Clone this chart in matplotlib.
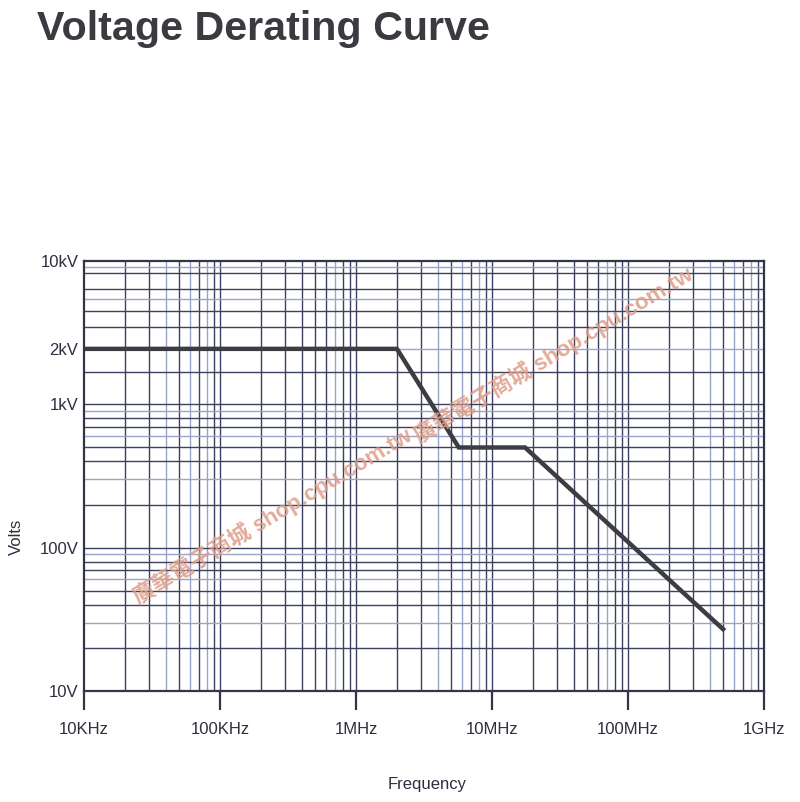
import matplotlib
matplotlib.use("Agg")
import matplotlib.pyplot as plt
import numpy as np

# Data
freq_hz = [1e4, 2e6, 5.7e6, 1.75e7, 5e8]
volts = [2000, 2000, 500, 500, 27]

x_ticks = [1e4, 1e5, 1e6, 1e7, 1e8, 1e9]
x_labels = ["10KHz", "100KHz", "1MHz", "10MHz", "100MHz", "1GHz"]
y_ticks = [10, 100, 1000, 2000, 10000]
y_labels = ["10V", "100V", "1kV", "2kV", "10kV"]

# horizontal grid values of the printed chart paper
y_grid = [20, 30, 40, 50, 60, 70, 80, 90, 100,
          200, 300, 400, 500, 600, 700, 800, 900, 1000,
          1500, 2000, 3000, 4000, 5000, 6000, 8000, 9000]

title = "Voltage Derating Curve"
watermark = "廣華電子商城 shop.cpu.com.tw"

text_col = "#2e2e3e"
grid_dark = "#3c4160"
grid_light = "#9aa3c8"
line_col = "#3c3c42"

# The printed chart paper is not an exact log scale in the top decade
# (2kV is drawn higher than a pure log scale would put it).
_scale_logs = np.log10([10, 100, 1000, 2000, 10000])
_scale_pos = np.array([0.0, 1.0, 2.0, 2.387, 3.0])


def _fwd(v):
    v = np.clip(np.asarray(v, dtype=float), 1e-9, None)
    return np.interp(np.log10(v), _scale_logs, _scale_pos)


def _inv(p):
    return 10 ** np.interp(np.asarray(p, dtype=float), _scale_pos, _scale_logs)


fig = plt.figure(figsize=(8.0, 8.02), dpi=100)
ax = fig.add_axes([84/800, 1-691/802, (764-84)/800, (691-261)/802])
ax.set_xscale("log")
ax.set_yscale("function", functions=(_fwd, _inv))
ax.set_xlim(1e4, 1e9)
ax.set_ylim(10, 10000)

# grid lines (alternating dark/light as in the scanned paper)
k = 0
for dec in [1e4, 1e5, 1e6, 1e7, 1e8]:
    for m in range(1, 10):
        v = dec * m
        if v <= 1e4 or v >= 1e9:
            continue
        c = grid_dark if (m in (1, 2, 3, 5, 9) or k % 2) else grid_light
        ax.axvline(v, color=c, lw=1.0, zorder=1)
        k += 1
for k, v in enumerate(y_grid):
    c = grid_dark if (k % 3 != 1 or v in (100, 1000)) else grid_light
    ax.axhline(v, color=c, lw=1.0, zorder=1)

ax.plot(freq_hz, volts, color=line_col, lw=3.2, zorder=3, solid_joinstyle="miter")

for s in ax.spines.values():
    s.set_color("#35354a")
    s.set_linewidth(1.6)
    s.set_zorder(4)

ax.set_xticks(x_ticks)
ax.set_xticklabels(x_labels)
ax.xaxis.set_minor_locator(matplotlib.ticker.NullLocator())
ax.yaxis.set_minor_locator(matplotlib.ticker.NullLocator())
ax.set_yticks(y_ticks)
ax.set_yticklabels(y_labels)
ax.tick_params(axis="x", length=14, width=1.6, color="#35354a", pad=8,
               labelsize=12, labelcolor=text_col)
ax.tick_params(axis="y", length=0, pad=4, labelsize=12, labelcolor=text_col)
for lab in ax.get_xticklabels() + ax.get_yticklabels():
    lab.set_fontfamily("Liberation Sans")

fig.text(37/800, 1-40/802, title, fontsize=29.7, fontweight="bold",
         family="Liberation Sans", color="#3a3a40", ha="left", va="baseline")
fig.text(16/800, 1-537/802, "Volts", rotation=90, fontsize=12,
         family="Liberation Sans", color=text_col, ha="center", va="center")
fig.text(427/800, 1-784/802, "Frequency", fontsize=12,
         family="Liberation Sans", color=text_col, ha="center", va="center")

wm_font = ["Liberation Sans", "Noto Sans CJK TC"]
for (cx, cy) in [(272, 516), (553, 355)]:
    fig.text(cx/800, 1-cy/802, watermark, rotation=31, fontsize=16,
             fontweight="bold", family=wm_font, color="#dd9c88", alpha=0.85,
             ha="center", va="center", rotation_mode="anchor", zorder=10)

fig.savefig("out.png", dpi=100, facecolor="white")
